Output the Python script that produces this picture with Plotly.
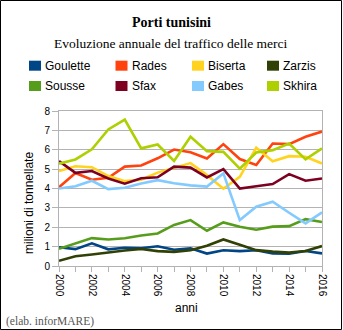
import plotly.graph_objects as go

# Annual cargo traffic of Tunisian ports, million tonnes
years = list(range(2000, 2017))

ports = ["Goulette", "Rades", "Biserta", "Zarzis", "Sousse", "Sfax", "Gabes", "Skhira"]

goulette = [0.97, 0.87, 1.17, 0.86, 0.94, 0.92, 1.02, 0.84, 0.91, 0.64, 0.81, 0.77, 0.81, 0.65, 0.64, 0.77, 0.65]
rades    = [4.07, 4.80, 4.45, 4.55, 5.13, 5.19, 5.56, 6.01, 5.87, 5.55, 6.29, 5.52, 5.21, 6.32, 6.29, 6.67, 6.94]
biserta  = [4.90, 5.15, 5.10, 4.64, 4.38, 4.45, 4.82, 5.08, 5.31, 4.69, 3.99, 4.60, 6.10, 5.41, 5.67, 5.64, 5.29]
zarzis   = [0.27, 0.50, 0.59, 0.70, 0.80, 0.88, 0.77, 0.73, 0.81, 1.05, 1.37, 1.10, 0.82, 0.74, 0.69, 0.77, 1.03]
sousse   = [0.89, 1.17, 1.44, 1.37, 1.43, 1.57, 1.68, 2.12, 2.37, 1.82, 2.25, 2.03, 1.87, 2.03, 2.06, 2.42, 2.27]
sfax     = [5.41, 4.81, 4.90, 4.52, 4.25, 4.53, 4.58, 5.13, 5.08, 4.57, 5.00, 4.00, 4.12, 4.23, 4.74, 4.40, 4.52]
gabes    = [4.00, 4.12, 4.40, 3.97, 4.04, 4.26, 4.43, 4.27, 4.16, 4.10, 4.78, 2.37, 3.06, 3.32, 2.75, 2.20, 2.77]
skhira   = [5.28, 5.50, 6.02, 7.05, 7.56, 6.07, 6.27, 5.42, 6.67, 5.93, 5.89, 5.02, 5.86, 5.98, 6.32, 5.50, 6.07]

series = [goulette, rades, biserta, zarzis, sousse, sfax, gabes, skhira]
colors = ["#004586", "#ff420e", "#ffd320", "#314004", "#579d1c", "#7e0021", "#83caff", "#aecf00"]

W, H = 343, 330
ML, MR, MT, MB = 59, 21, 111, 64
PW, PH = W - ML - MR, H - MT - MB


def px(x):
    return (x - ML) / PW


def py(y):
    return (H - MB - y) / PH


fig = go.Figure()
for name, vals, col in zip(ports, series, colors):
    fig.add_trace(go.Scatter(x=years, y=vals, mode="lines", name=name,
                             line=dict(color=col, width=2.6), showlegend=False))

grid = "#b3b3b3"
sans = "Liberation Sans"
serif = "Liberation Serif"

fig.update_xaxes(range=[2000, 2016], dtick=2, tick0=2000, tickangle=90,
                 ticks="outside", ticklen=5, tickcolor=grid,
                 minor=dict(dtick=1, ticks="outside", ticklen=5, tickcolor=grid),
                 showgrid=False, showline=True, linecolor=grid, mirror=True,
                 zeroline=False, tickfont=dict(family=sans, size=10, color="black"))
fig.update_yaxes(range=[0, 8], dtick=1, ticks="outside", ticklen=6, tickcolor=grid,
                 showgrid=True, gridcolor=grid, gridwidth=1,
                 showline=True, linecolor=grid, mirror=True, zeroline=False,
                 tickfont=dict(family=sans, size=10, color="black"))

ann = []
shapes = []


def note(x, y, text, **kw):
    d = dict(x=px(x), y=py(y), xref="paper", yref="paper", text=text,
             showarrow=False, xanchor="center", yanchor="middle")
    d.update(kw)
    ann.append(d)


# titles
note(171, 22, "<b>Porti tunisini</b>", font=dict(family=serif, size=14, color="black"))
note(171, 43.5, "Evoluzione annuale del traffico delle merci",
     font=dict(family=serif, size=13.5, color="black"))

# legend: 4 columns x 2 rows
col_sq = [29, 115.5, 192, 267]
col_tx = [44, 131, 207, 282]
row_y = [65.7, 86]
for i, (name, col) in enumerate(zip(ports, colors)):
    r, c = divmod(i, 4)
    yc = row_y[r]
    shapes.append(dict(type="rect", xref="paper", yref="paper",
                       x0=px(col_sq[c]), x1=px(col_sq[c] + 12),
                       y0=py(yc - 5), y1=py(yc + 5),
                       fillcolor=col, line=dict(width=0)))
    note(col_tx[c] - 1, yc, name, xanchor="left",
         font=dict(family=sans, size=12, color="black"))

# axis titles
note(29, 203, "milioni di tonnellate", textangle=-90,
     font=dict(family=sans, size=12, color="black"))
note(186, 308, "anni", font=dict(family=sans, size=12, color="black"))

# source note
note(4, 321.5, "(elab. inforMARE)", xanchor="left",
     font=dict(family=serif, size=11.5, color="#555555"))

# outer frame
shapes.append(dict(type="rect", xref="paper", yref="paper",
                   x0=px(0.5), x1=px(341.5), y0=py(0.5), y1=py(329.5),
                   line=dict(color="black", width=1), fillcolor="rgba(0,0,0,0)"))

fig.update_layout(width=W, height=H, margin=dict(l=ML, r=MR, t=MT, b=MB),
                  paper_bgcolor="white", plot_bgcolor="white",
                  annotations=ann, shapes=shapes, showlegend=False)

fig.write_html("out.html")
